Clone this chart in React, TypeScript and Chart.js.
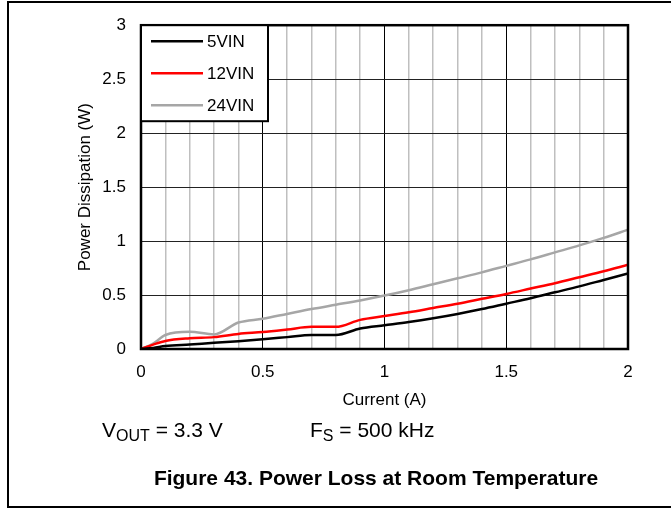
import React, { useEffect, useRef } from "react";
import { Chart, registerables } from "chart.js";

Chart.register(...registerables);

// ---- data ----
const currents = [0, 0.05, 0.1, 0.2, 0.3, 0.4, 0.5, 0.6, 0.7, 0.8, 0.9, 1.0, 1.1, 1.2, 1.3, 1.4, 1.5, 1.6, 1.7, 1.8, 1.9, 2.0];
const vin5 = [0, 0.01, 0.027, 0.042, 0.057, 0.072, 0.09, 0.11, 0.13, 0.13, 0.19, 0.22, 0.25, 0.285, 0.325, 0.37, 0.42, 0.47, 0.525, 0.58, 0.64, 0.7];
const vin12 = [0, 0.04, 0.075, 0.1, 0.11, 0.14, 0.157, 0.18, 0.205, 0.205, 0.27, 0.305, 0.34, 0.38, 0.42, 0.465, 0.51, 0.56, 0.61, 0.665, 0.72, 0.78];
const vin24 = [0, 0.05, 0.13, 0.16, 0.135, 0.245, 0.28, 0.325, 0.37, 0.41, 0.45, 0.495, 0.545, 0.6, 0.655, 0.71, 0.77, 0.83, 0.895, 0.96, 1.03, 1.105];
const seriesLabels = ["5VIN", "12VIN", "24VIN"];
const xTickLabels = ["0", "0.5", "1", "1.5", "2"];
const yTickLabels = ["0", "0.5", "1", "1.5", "2", "2.5", "3"];
const xTitle = "Current (A)";
const yTitle = "Power Dissipation (W)";

// ---- styles ----
const seriesColors = ["#000000", "#ff0000", "#a6a6a6"];
const FONT = "'Liberation Sans', Arial, Helvetica, sans-serif";

const boxLegend = {
  id: "boxLegend",
  afterDatasetsDraw(chart: any) {
    const { ctx, chartArea: a } = chart;
    ctx.save();
    ctx.strokeStyle = "#000";
    ctx.lineWidth = 2.5;
    ctx.strokeRect(a.left, a.top, a.right - a.left, a.bottom - a.top);
    const x0 = a.left;
    const y0 = a.top;
    const w = 127;
    const h = 96;
    ctx.fillStyle = "#fff";
    ctx.fillRect(x0, y0, w, h);
    ctx.lineWidth = 2;
    ctx.strokeRect(x0, y0, w, h);
    chart.data.datasets.forEach((ds: any, i: number) => {
      const y = y0 + 16 + i * 32;
      ctx.strokeStyle = ds.borderColor;
      ctx.lineWidth = 2.5;
      ctx.beginPath();
      ctx.moveTo(x0 + 10, y);
      ctx.lineTo(x0 + 62, y);
      ctx.stroke();
      ctx.fillStyle = "#000";
      ctx.font = `17px ${FONT}`;
      ctx.textBaseline = "middle";
      ctx.textAlign = "left";
      ctx.fillText(ds.label, x0 + 66, y + 1);
    });
    ctx.restore();
  },
};

const isMajor = (v: number) => Math.abs(v * 2 - Math.round(v * 2)) < 1e-6;

export default function App() {
  const ref = useRef<HTMLCanvasElement | null>(null);

  useEffect(() => {
    if (!ref.current) return;
    const series = [vin5, vin12, vin24];
    const chart = new Chart(ref.current, {
      type: "line",
      data: {
        datasets: series.map((vals, i) => ({
          label: seriesLabels[i],
          data: currents.map((c, j) => ({ x: c, y: vals[j] })),
          borderColor: seriesColors[i],
          backgroundColor: seriesColors[i],
          borderWidth: 2.5,
          pointRadius: 0,
          cubicInterpolationMode: "monotone" as const,
          fill: false,
        })),
      },
      options: {
        animation: false,
        responsive: false,
        devicePixelRatio: 1,
        layout: { padding: { left: 0, right: 43, top: 17, bottom: 0 } },
        plugins: { legend: { display: false }, tooltip: { enabled: false } },
        scales: {
          x: {
            type: "linear",
            min: 0,
            max: 2,
            afterFit: (s: any) => {
              s.height = 71;
            },
            border: { display: false },
            grid: {
              drawTicks: false,
              color: (c: any) => (isMajor(c.tick.value) ? "#000000" : "#bfbfbf"),
              lineWidth: (c: any) => (isMajor(c.tick.value) ? 1 : 1.5),
            },
            ticks: {
              stepSize: 0.1,
              autoSkip: false,
              maxRotation: 0,
              padding: 13,
              color: "#000",
              font: { size: 17, family: FONT },
              callback: (v: any) => (isMajor(Number(v)) ? xTickLabels[Math.round(Number(v) * 2)] : ""),
            },
            title: {
              display: true,
              text: xTitle,
              color: "#000",
              font: { size: 17, family: FONT },
              padding: { top: 0, bottom: 9 },
            },
          },
          y: {
            type: "linear",
            min: 0,
            max: 3,
            afterFit: (s: any) => {
              s.width = 141;
            },
            border: { display: false },
            grid: { drawTicks: false, color: "#222", lineWidth: 1 },
            ticks: {
              stepSize: 0.5,
              padding: 15,
              color: "#000",
              font: { size: 17, family: FONT },
              callback: (v: any) => yTickLabels[Math.round(Number(v) * 2)],
            },
            title: {
              display: true,
              text: yTitle,
              color: "#000",
              font: { size: 17, family: FONT },
              padding: { top: 75, bottom: 0 },
            },
          },
        },
      },
      plugins: [boxLegend],
    });
    return () => chart.destroy();
  }, []);

  const textBase: React.CSSProperties = {
    position: "absolute",
    fontFamily: FONT,
    color: "#000",
    lineHeight: 1,
    whiteSpace: "nowrap",
  };

  return (
    <div style={{ position: "absolute", left: 0, top: 0, width: 671, height: 508, background: "#fff" }}>
      <canvas ref={ref} width={671} height={420} style={{ position: "absolute", left: 0, top: 0, width: 671, height: 420 }} />
      <div
        style={{
          position: "absolute",
          left: 7,
          top: 1,
          width: 664,
          height: 507,
          boxSizing: "border-box",
          borderLeft: "2px solid #000",
          borderTop: "2px solid #000",
          borderBottom: "2px solid #000",
          pointerEvents: "none",
        }}
      />
      <div style={{ ...textBase, left: 102, top: 419, fontSize: 21 }}>
        V<span style={{ fontSize: 16, position: "relative", top: 4 }}>OUT</span> = 3.3 V
      </div>
      <div style={{ ...textBase, left: 310, top: 419, fontSize: 21 }}>
        F<span style={{ fontSize: 16, position: "relative", top: 4 }}>S</span> = 500 kHz
      </div>
      <div style={{ ...textBase, left: 0, width: 752, textAlign: "center", top: 467, fontSize: 21, fontWeight: "bold" }}>
        Figure 43. Power Loss at Room Temperature
      </div>
    </div>
  );
}
